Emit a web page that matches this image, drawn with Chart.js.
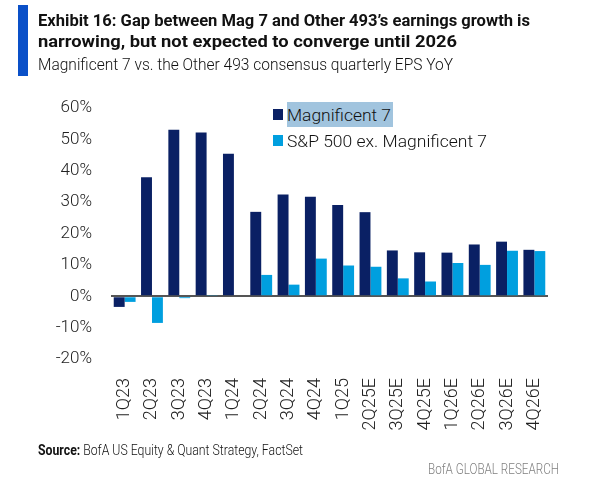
<!DOCTYPE html>
<html>
<head>
<meta charset="utf-8">
<script src="https://cdn.jsdelivr.net/npm/chart.js@4.4.1/dist/chart.umd.min.js"></script>
<style>
  html, body { margin: 0; padding: 0; background: #fff; }
  #wrap { position: relative; width: 592px; height: 499px; overflow: hidden; font-family: Roboto, "Open Sans", sans-serif; }
  #c { position: absolute; left: 0; top: 0; }
  .t { position: absolute; white-space: nowrap; transform-origin: 0 0; line-height: 1; }
  #bar { position: absolute; left: 18px; top: 5px; width: 10px; height: 71px; background: #0a50c8; }
  .title { font-weight: 700; font-size: 17px; color: #111; }
  .sub { font-weight: 300; font-size: 17px; color: #111; }
  .leg { position: absolute; white-space: nowrap; font-size: 17px; font-weight: 300; color: #111; }
  .sw { position: absolute; width: 10px; height: 11px; }
  .src { font-size: 14px; color: #111; font-weight: 300; }
  .brand { font-size: 14px; color: #808080; font-weight: 300; }
</style>
</head>
<body>
<div id="wrap">
  <canvas id="c" width="592" height="499"></canvas>
  <div id="bar"></div>
  <div class="t title" data-w="492" data-base="27" style="left:38px">Exhibit 16: Gap between Mag 7 and Other 493’s earnings growth is</div>
  <div class="t title" data-w="419" data-base="48" style="left:38px">narrowing, but not expected to converge until 2026</div>
  <div class="t sub" data-w="415" data-base="71" style="left:38px">Magnificent 7 vs. the Other 493 consensus quarterly EPS YoY</div>
  <div id="legend"></div>
  <div class="t src" data-w="265" data-base="455" style="left:38px"><b style="font-weight:700">Source:</b> BofA US Equity &amp; Quant Strategy, FactSet</div>
  <div class="t brand" data-w="131" data-base="474" style="left:428px">BofA GLOBAL RESEARCH</div>
</div>
<script>
const categories = ['1Q23','2Q23','3Q23','4Q23','1Q24','2Q24','3Q24','4Q24','1Q25','2Q25E','3Q25E','4Q25E','1Q26E','2Q26E','3Q26E','4Q26E'];
const mag7 = [-3.4, 37.9, 53.1, 52.2, 45.4, 26.9, 32.4, 31.7, 29.1, 26.8, 14.6, 14.0, 13.9, 16.5, 17.4, 14.8];
const other493 = [-1.8, -8.5, -0.6, 0.4, 0.0, 6.8, 3.7, 12.0, 9.8, 9.4, 5.7, 4.7, 10.6, 10.0, 14.5, 14.4];
const seriesNames = ['Magnificent 7', 'S&P 500 ex. Magnificent 7'];
const seriesColors = ['#0a2064', '#009fdf'];
const yMin = -20, yMax = 60, yStep = 10;

const yFont = { family: 'Roboto, "Open Sans", sans-serif', size: 17, weight: '300' };
const xFont = { family: 'Roboto, "Open Sans", sans-serif', size: 18, weight: '300' };

const chart = new Chart(document.getElementById('c'), {
  type: 'bar',
  data: {
    labels: categories,
    datasets: [
      { label: seriesNames[0], data: mag7, backgroundColor: seriesColors[0] },
      { label: seriesNames[1], data: other493, backgroundColor: seriesColors[1] }
    ]
  },
  options: {
    responsive: false,
    animation: false,
    events: [],
    layout: { padding: { top: 108, right: 44, left: 0, bottom: 0 } },
    plugins: { legend: { display: false }, tooltip: { enabled: false }, title: { display: false } },
    datasets: { bar: { categoryPercentage: 0.8, barPercentage: 1.0 } },
    scales: {
      x: {
        grid: { display: false },
        border: { display: false },
        ticks: { autoSkip: false, maxRotation: 90, minRotation: 90, padding: 11, color: '#222', font: xFont },
        afterFit: (s) => { s.height = 140; }
      },
      y: {
        min: yMin, max: yMax,
        border: { display: false },
        grid: {
          drawTicks: false,
          color: (ctx) => (ctx.tick && ctx.tick.value === 0) ? '#555555' : 'rgba(0,0,0,0)',
          lineWidth: (ctx) => (ctx.tick && ctx.tick.value === 0) ? 2 : 0
        },
        ticks: { stepSize: yStep, padding: 19, color: '#222', font: yFont, callback: (v) => v + '%' },
        afterFit: (s) => { s.width = 111; }
      }
    }
  }
});

// legend built from the chart's datasets
const leg = document.getElementById('legend');
const legRows = [
  { swTop: 109, base: 122, w: 104, hl: true },
  { swTop: 135, base: 148, w: 200, hl: false }
];
chart.data.datasets.forEach((ds, i) => {
  const r = legRows[i];
  const sw = document.createElement('div');
  sw.className = 'sw';
  sw.style.left = '273px'; sw.style.top = r.swTop + 'px'; sw.style.background = ds.backgroundColor;
  leg.appendChild(sw);
  if (r.hl) {
    const hl = document.createElement('div');
    hl.style.cssText = 'position:absolute;left:287px;top:102px;width:106px;height:25px;background:#a1c4de;';
    leg.appendChild(hl);
  }
  const tx = document.createElement('div');
  tx.className = 't leg';
  tx.textContent = ds.label;
  tx.style.left = '287px';
  tx.dataset.w = r.w; tx.dataset.base = r.base;
  leg.appendChild(tx);
});

// fit text widths and baselines
document.querySelectorAll('.t').forEach(el => {
  const fs = parseFloat(getComputedStyle(el).fontSize);
  const base = parseFloat(el.dataset.base);
  el.style.top = (base - fs * 0.86) + 'px';
  const w = el.getBoundingClientRect().width;
  const target = parseFloat(el.dataset.w);
  if (w > 0 && target) el.style.transform = 'scaleX(' + (target / w).toFixed(4) + ')';
});
</script>
</body>
</html>
